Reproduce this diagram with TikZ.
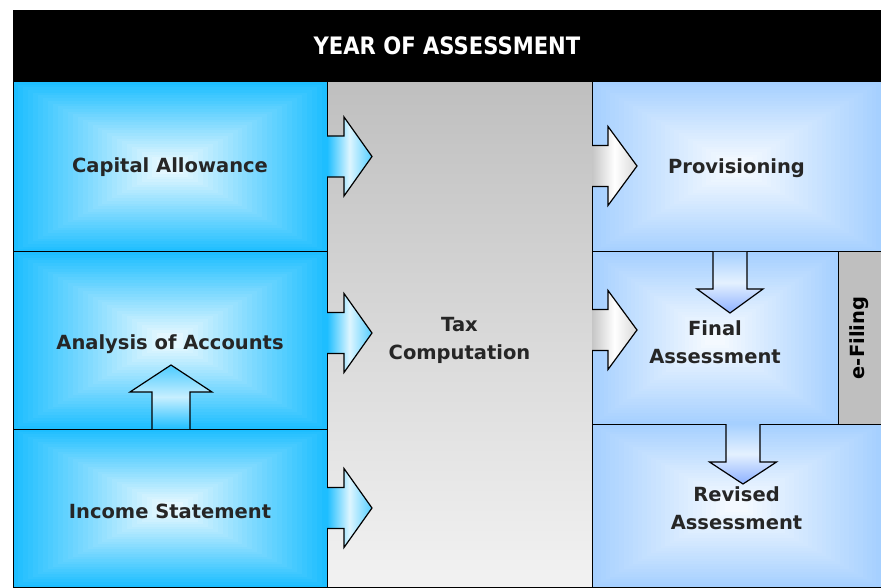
\documentclass[tikz,border=0pt]{standalone}
\usepackage{fontspec}
\setmainfont{DejaVu Sans}
\newfontfamily\headfont[FakeStretch=0.88]{DejaVu Sans}
\usetikzlibrary{positioning,calc}

\definecolor{deepblue}{RGB}{30,190,255}
\definecolor{paleblue}{RGB}{166,208,255}
\definecolor{inkgray}{RGB}{38,38,38}

\tikzset{
  glow/.style={path picture={
    \foreach \k in {0,...,29}{
      \pgfmathsetmacro\f{\k/30*0.95}
      \pgfmathtruncatemacro\p{\k/29*88}
      \fill[white!\p!#1] ($(path picture bounding box.south west)!\f!(path picture bounding box.center)$)
        rectangle ($(path picture bounding box.north east)!\f!(path picture bounding box.center)$);
    }}},
  box/.style={draw=black, line width=1pt, outer sep=0pt, inner sep=0pt, text=inkgray,
    font=\fontsize{19.5}{28}\selectfont\bfseries, align=center},
  leftbox/.style={box, minimum width=314pt, glow=deepblue},
  rightbox/.style={box, glow=paleblue},
  bluearrow/.style={draw=black, line width=1.2pt, left color=deepblue, right color=deepblue!75!white, middle color=white!85!deepblue},
  grayarrow/.style={draw=black, line width=1.2pt, left color=gray!45, right color=gray!30, middle color=white},
  downarrow/.style={draw=black, line width=1.2pt, top color=paleblue, bottom color=paleblue!85!blue, middle color=white!70!paleblue},
  uparrow/.style={draw=black, line width=1.2pt, bottom color=deepblue, top color=deepblue!80!white, middle color=white!75!deepblue}
}

\begin{document}
\begin{tikzpicture}[x=1pt, y=1pt]
\useasboundingbox (0,0) rectangle (881,587);

% header
\node [fill=black, outer sep=0pt, minimum width=868pt, minimum height=71pt, anchor=north west,
  text=white, font=\headfont\fontsize{24}{28}\selectfont\bfseries] (year) at (13,577) {YEAR OF ASSESSMENT};

% left column
\node [leftbox, minimum height=170pt, below right=1pt and 0pt of year.south west] (cap) {Capital Allowance};
\node [leftbox, minimum height=177pt, text height=22.8pt, below=0pt of cap] (analysis) {Analysis of Accounts};
\node [leftbox, minimum height=158pt, text height=22.2pt, below=0pt of analysis] (income) {Income Statement};

% middle column
\node [box, minimum width=265pt, minimum height=505pt, text height=55pt, top color=gray!50, bottom color=gray!10,
  below right=0pt and 0pt of cap.north east] (tax) {Tax\\Computation};

% right column
\node [rightbox, minimum width=289pt, minimum height=170pt, text height=16.5pt, below right=0pt and 0pt of tax.north east] (prov) {Provisioning};
\node [rightbox, minimum width=246pt, minimum height=172pt, text height=51.5pt, below right=0pt and 0pt of prov.south west] (final) {Final\\Assessment};
\node [box, fill=gray!50, minimum width=43pt, minimum height=172pt, right=0pt of final] (efile) {};
\node [rotate=90, text=black, font=\fontsize{19.5}{24}\selectfont\bfseries] (efiletext) at (efile.center) {e-Filing};
\node [rightbox, minimum width=289pt, minimum height=163pt, text height=49pt, below right=0pt and 0pt of final.south west] (revised) {Revised\\Assessment};

% arrows into tax computation
\draw [bluearrow] ([yshift=10.5pt]cap.east) ++(0,-20.5) -- ++(17,0) -- ++(0,-19) -- ++(28,39.5) -- ++(-28,39.5) -- ++(0,-19) -- ++(-17,0);
\draw [bluearrow] ([yshift=7.5pt]analysis.east) ++(0,-20.5) -- ++(17,0) -- ++(0,-19) -- ++(28,39.5) -- ++(-28,39.5) -- ++(0,-19) -- ++(-17,0);
\draw [bluearrow] (income.east) ++(0,-20.5) -- ++(17,0) -- ++(0,-19) -- ++(28,39.5) -- ++(-28,39.5) -- ++(0,-19) -- ++(-17,0);

% arrows out of tax computation
\draw [grayarrow] ([yshift=1pt]prov.west) ++(0,-20.5) -- ++(16,0) -- ++(0,-19) -- ++(29,39.5) -- ++(-29,39.5) -- ++(0,-19) -- ++(-16,0);
\draw [grayarrow] ([yshift=8pt]final.west) ++(0,-20.5) -- ++(16,0) -- ++(0,-19) -- ++(29,39.5) -- ++(-29,39.5) -- ++(0,-19) -- ++(-16,0);

% down the right column
\draw [downarrow] ([xshift=-6.5pt]prov.south) ++(-17,0) -- ++(0,-37) -- ++(-16,0) -- ++(33,-24) -- ++(33,24) -- ++(-16,0) -- ++(0,37);
\draw [downarrow] ([xshift=6.5pt]revised.north) ++(-17,0) -- ++(0,-38) -- ++(-16.5,0) -- ++(33.5,-22) -- ++(33.5,22) -- ++(-16.5,0) -- ++(0,38);

% up the left column
\draw [uparrow] ([xshift=1pt]income.north) ++(-19,0) -- ++(0,37) -- ++(-22,0) -- ++(41,27) -- ++(41,-27) -- ++(-22,0) -- ++(0,-37);

\end{tikzpicture}
\end{document}
